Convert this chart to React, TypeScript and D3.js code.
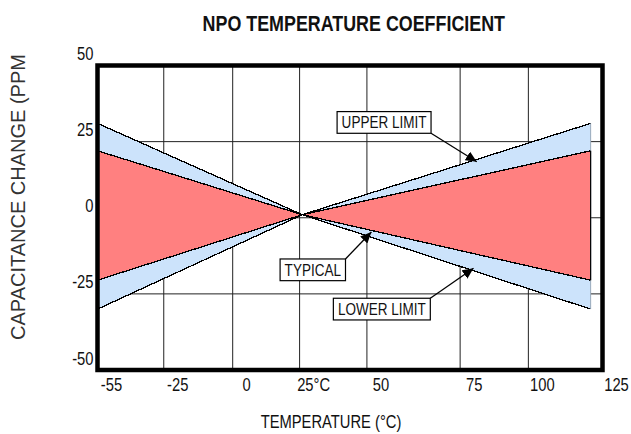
import React from "react";
import * as d3 from "d3";

// ---------- data ----------
const temperatures = [-55, 26, 121];
const upperLimit = [31, 1, 31];
const lowerLimit = [-30, 1, -30];
const typicalUpper = [22, 1, 22];
const typicalLower = [-20.5, 1, -20.5];

const xTickValues = [-55, -25, 0, 25, 50, 75, 100, 125];
const xTickLabels = ["-55", "-25", "0", "25°C", "50", "75", "100", "125"];
const yTickValues = [50, 25, 0, -25, -50];
const yTickLabels = ["50", "25", "0", "-25", "-50"];

const annotationLabels = ["UPPER LIMIT", "TYPICAL", "LOWER LIMIT"];
const annotationBoxTemps = [54.6, 29.9, 54];
const annotationBoxValues = [31.3, -17.1, -30];
const annotationTipTemps = [81.1, 51.2, 79.9];
const annotationTipSeries = ["upper", "typicalLower", "lower"];

const title = "NPO TEMPERATURE COEFFICIENT";
const xTitle = "TEMPERATURE (°C)";
const yTitle = "CAPACITANCE CHANGE (PPM";

// ---------- layout ----------
const W = 631;
const H = 434;
const plot = { left: 97.5, right: 602.5, top: 65.5, bottom: 370 };
// the source drawing places its temperature gridlines unevenly
const xBreakFractions = [0, 0.1312, 0.2677, 0.4002, 0.5335, 0.7181, 0.8532, 1];
const FONT = "'Liberation Sans', Arial, Helvetica, sans-serif";
const NARROW = 0.82;
const BLUE = "#cce3fb";
const RED = "#ff8080";

const x = d3
  .scaleLinear()
  .domain(xTickValues)
  .range(xBreakFractions.map((f) => plot.left + f * (plot.right - plot.left)));
const y = d3.scaleLinear().domain([-50, 50]).range([plot.bottom, plot.top]);

const seriesMap: Record<string, number[]> = {
  upper: upperLimit,
  lower: lowerLimit,
  typicalUpper,
  typicalLower,
};

function interp(series: number[], t: number) {
  const s = d3.scaleLinear().domain(temperatures).range(series);
  return s(t);
}

function measure(text: string, size: number, weight = "normal") {
  if (typeof document === "undefined") return text.length * size * 0.5;
  const c = document.createElement("canvas").getContext("2d")!;
  c.font = `${weight} ${size}px "Liberation Sans", Arial, sans-serif`;
  return c.measureText(text).width * NARROW;
}

function NText({
  x,
  y,
  anchor = "start",
  size,
  weight = "normal",
  fill = "#111",
  children,
}: any) {
  return (
    <g transform={`translate(${x},${y}) scale(${NARROW},1)`}>
      <text
        textAnchor={anchor}
        fontSize={size}
        fontWeight={weight}
        fontFamily={FONT}
        fill={fill}
      >
        {children}
      </text>
    </g>
  );
}

export default function App() {
  const idx = temperatures.map((_, i) => i);
  const blueArea = d3
    .area<number>()
    .x((i) => x(temperatures[i]))
    .y0((i) => y(lowerLimit[i]))
    .y1((i) => y(upperLimit[i]))(idx)!;
  const redArea = d3
    .area<number>()
    .x((i) => x(temperatures[i]))
    .y0((i) => y(typicalLower[i]))
    .y1((i) => y(typicalUpper[i]))(idx)!;
  const lineGen = (s: number[]) =>
    d3
      .line<number>()
      .x((i) => x(temperatures[i]))
      .y((i) => y(s[i]))(idx)!;

  const lastT = temperatures[temperatures.length - 1];
  const labelSize = 16.5;
  const boxH = 21.7;

  return (
    <svg
      width={W}
      height={H}
      style={{ position: "absolute", left: 0, top: 0, background: "#fff" }}
    >
      <defs>
        <marker
          id="ah"
          markerUnits="userSpaceOnUse"
          markerWidth={12}
          markerHeight={10}
          refX={11}
          refY={5}
          orient="auto"
        >
          <path d="M0,0 L11,5 L0,10 Z" fill="#000" />
        </marker>
      </defs>
      <rect x={0} y={0} width={W} height={H} fill="#fff" />

      {/* title */}
      <NText x={353.8} y={31} anchor="middle" size={21.8} weight="bold" fill="#111">
        {title}
      </NText>

      {/* gridlines */}
      {xTickValues.slice(1, -1).map((v) => (
        <line
          key={"gx" + v}
          x1={x(v)}
          x2={x(v)}
          y1={plot.top}
          y2={plot.bottom}
          stroke="#222"
          strokeWidth={1}
        />
      ))}
      {yTickValues.slice(1, -1).map((v) => (
        <line
          key={"gy" + v}
          x1={plot.left}
          x2={plot.right}
          y1={y(v)}
          y2={y(v)}
          stroke="#222"
          strokeWidth={1}
        />
      ))}

      {/* fills */}
      <path d={blueArea} fill={BLUE} />
      <path d={redArea} fill={RED} />

      {/* outlines */}
      {[upperLimit, lowerLimit, typicalUpper, typicalLower].map((s, k) => (
        <path
          key={"l" + k}
          d={lineGen(s)}
          fill="none"
          stroke="#000"
          strokeWidth={1.3}
          shapeRendering="crispEdges"
        />
      ))}
      <line
        x1={x(lastT)}
        x2={x(lastT)}
        y1={y(upperLimit[2])}
        y2={y(lowerLimit[2])}
        stroke="#9ab"
        strokeWidth={1}
      />
      <line
        x1={x(lastT)}
        x2={x(lastT)}
        y1={y(typicalUpper[2])}
        y2={y(typicalLower[2])}
        stroke="#000"
        strokeWidth={1.2}
      />

      {/* frame */}
      <rect
        x={plot.left}
        y={plot.top}
        width={plot.right - plot.left}
        height={plot.bottom - plot.top}
        fill="none"
        stroke="#000"
        strokeWidth={4.5}
      />

      {/* annotations */}
      {annotationLabels.map((lab, i) => {
        const cx = x(annotationBoxTemps[i]);
        const cy = y(annotationBoxValues[i]);
        const w = measure(lab, labelSize) + 9;
        const bx = cx - w / 2;
        const by = cy - boxH / 2;
        const tipX = x(annotationTipTemps[i]);
        const tipY = y(interp(seriesMap[annotationTipSeries[i]], annotationTipTemps[i]));
        const startY = tipY > by ? (i === 0 ? by + boxH : by) : by;
        return (
          <g key={lab}>
            <line
              x1={bx + w}
              y1={startY}
              x2={tipX}
              y2={tipY}
              stroke="#000"
              strokeWidth={1.3}
              markerEnd="url(#ah)"
            />
            <rect x={bx} y={by} width={w} height={boxH} fill="#fff" stroke="#000" strokeWidth={1.2} />
            <NText x={cx} y={cy + 6} anchor="middle" size={labelSize} fill="#111">
              {lab}
            </NText>
          </g>
        );
      })}

      {/* x tick labels */}
      {xTickValues.map((v, i) => (
        <NText key={"xt" + v} x={x(v) + 14} y={391} anchor="middle" size={18} fill="#111">
          {xTickLabels[i]}
        </NText>
      ))}
      {/* y tick labels */}
      {yTickValues.map((v, i) => (
        <NText key={"yt" + v} x={93.5} y={y(v) - 5.5} anchor="end" size={18} fill="#111">
          {yTickLabels[i]}
        </NText>
      ))}

      {/* axis titles */}
      <NText x={331} y={428} anchor="middle" size={18} fill="#111">
        {xTitle}
      </NText>
      <text
        transform="translate(25,340) rotate(-90)"
        textAnchor="start"
        fontSize={20}
        fontFamily={FONT}
        fill="#333"
      >
        {yTitle}
      </text>
    </svg>
  );
}
